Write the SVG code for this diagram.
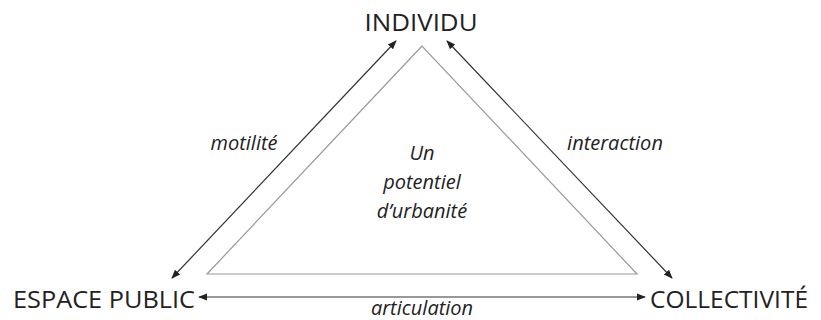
<svg xmlns="http://www.w3.org/2000/svg" width="821" height="320" viewBox="0 0 821 320">
<style>
.lbl{font-family:"Open Sans","Liberation Sans",sans-serif;font-size:24.5px;fill:#222;}
.it{font-family:"Open Sans","Liberation Sans",sans-serif;font-size:20px;font-style:italic;fill:#222;}
.arr{stroke:#333;stroke-width:1.2;fill:none;marker-start:url(#ah);marker-end:url(#ah);}
</style>
<defs>
<marker id="ah" viewBox="0 0 10 10" refX="9" refY="5" markerWidth="9" markerHeight="9" markerUnits="userSpaceOnUse" orient="auto-start-reverse">
<path d="M0,1 L10,5 L0,9 Z" fill="#222"/>
</marker>
</defs>
<rect width="821" height="320" fill="#fff"/>
<g id="triangle">
<polygon points="422,46 207,274 637,274" fill="none" stroke="#999" stroke-width="1.2"/>
<text class="it" text-anchor="middle" x="422" y="160">Un</text>
<text class="it" text-anchor="middle" x="422" y="189">potentiel</text>
<text class="it" text-anchor="middle" x="422" y="218">d’urbanité</text>
</g>
<g id="connectors">
<line class="arr" x1="396" y1="41" x2="172" y2="278"/>
<line class="arr" x1="447" y1="41" x2="672" y2="278"/>
<line class="arr" x1="199" y1="297" x2="645" y2="297"/>
<text class="it" text-anchor="middle" x="244" y="150">motilité</text>
<text class="it" text-anchor="middle" x="615" y="150">interaction</text>
<text class="it" text-anchor="middle" x="422" y="315">articulation</text>
</g>
<g id="individu"><text class="lbl" text-anchor="middle" x="421" y="31" textLength="113" lengthAdjust="spacingAndGlyphs">INDIVIDU</text></g>
<g id="espace-public"><text class="lbl" x="13" y="308" textLength="182" lengthAdjust="spacingAndGlyphs">ESPACE PUBLIC</text></g>
<g id="collectivite"><text class="lbl" x="650" y="308" textLength="158" lengthAdjust="spacingAndGlyphs">COLLECTIVITÉ</text></g>
</svg>
